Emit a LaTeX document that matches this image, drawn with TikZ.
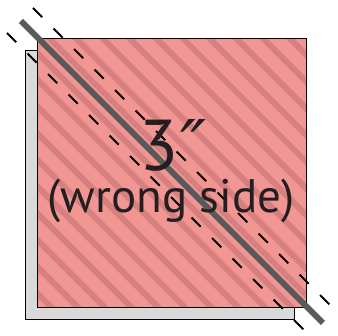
\documentclass[tikz,border=0pt]{standalone}
\usepackage{fontspec}
\setmainfont{PT Sans}
\newfontfamily\primefont{DejaVu Sans}
\definecolor{patchc}{HTML}{F29694}
\definecolor{stripec}{HTML}{D6817F}
\definecolor{backc}{HTML}{D9D9D9}
\definecolor{cutc}{HTML}{58595B}
\definecolor{inkc}{HTML}{231F20}
\usetikzlibrary{calc}
\tikzset{
  square/.style={draw=black,line width=1pt},
  stripe/.style={draw=stripec,line width=6pt},
  cutline/.style={draw=cutc,line width=6pt},
  seam/.style={draw=black,line width=2pt,dash pattern=on 13pt off 16pt},
  lbl/.style={text=inkc,inner sep=0pt,anchor=base},
}

\begin{document}
\begin{tikzpicture}[x=1pt,y=-1pt]
  \useasboundingbox (0,0) rectangle (338,336);
  % back square (right side of the other patch)
  \filldraw[square,fill=backc] (25,51) rectangle (294,320);
  % front patch, wrong side up
  \fill[patchc] (37,39) rectangle (306,308);
  \begin{scope}
    \clip (37,39) rectangle (306,308);
    \foreach \k in {-12,...,11}
      \draw[stripe] ({50+26.7*\k-300},{39-300}) -- ({50+26.7*\k+300},{39+300});
  \end{scope}
  \draw[square] (37,39) rectangle (306,308);
  % cutting line and seam lines
  \coordinate (cutA) at (21,21);
  \coordinate (cutB) at (323,323);
  \coordinate (seamA) at (33,8);
  \coordinate (seamB) at (338,313);
  \coordinate (seamC) at (7,33);
  \coordinate (seamD) at (311,337);
  \draw[cutline] (cutA) -- (cutB);
  \draw[seam] (seamA) -- (seamB);
  \draw[seam] (seamC) -- (seamD);
  % labels
  \node[lbl,font=\fontsize{72}{72}\selectfont] (size) at (173,171) {3\kern2pt{\primefont\fontsize{70}{70}\selectfont\itshape ″}};
  \node[lbl,font=\fontsize{47}{47}\selectfont] (side) at (171,213) {(wrong side)};
\end{tikzpicture}
\end{document}
